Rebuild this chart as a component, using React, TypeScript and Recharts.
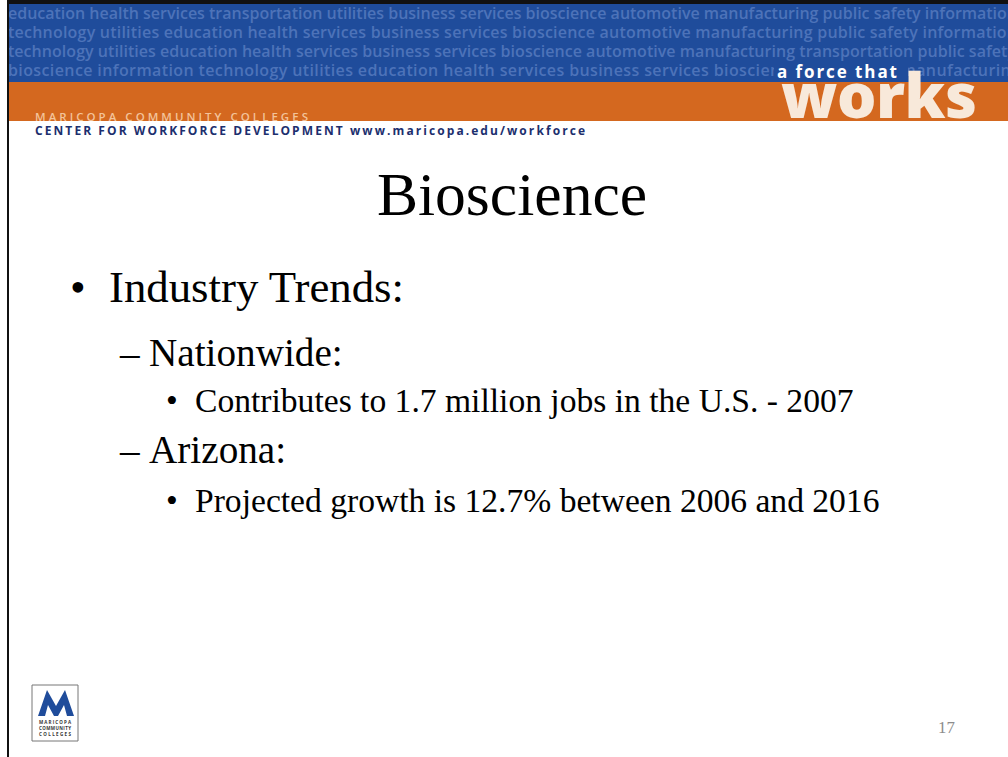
import { Surface, Layer, Rectangle, Polygon } from "recharts";

const W = 1008;
const H = 757;

// background words in the blue banner
const bannerLines = [
  "education health services transportation utilities business services bioscience automotive manufacturing public safety information",
  "technology utilities education health services business services bioscience automotive manufacturing public safety information",
  "technology utilities education health services business services bioscience automotive manufacturing transportation public safety",
  "bioscience information technology utilities education health services business services bioscience automotive manufacturing",
];
const bannerLengths = [1009, 1009, 1008, 1012];

const title = "Bioscience";

const outline = [
  { level: 1, text: "Industry Trends:" },
  { level: 2, text: "Nationwide:" },
  { level: 3, text: "Contributes to 1.7 million jobs in the U.S. - 2007" },
  { level: 2, text: "Arizona:" },
  { level: 3, text: "Projected growth is 12.7% between 2006 and 2016" },
];
const outlineBaselines = [302, 366, 412, 463, 512];

const pageNumber = "17";
const logoLines = ["MARICOPA", "COMMUNITY", "COLLEGES"];

const levelStyle: Record<number, { size: number; markX: number; textX: number; mark: string; markSize: number }> = {
  1: { size: 44.8, markX: 70, textX: 109, mark: "\u2022", markSize: 44.8 },
  2: { size: 39.2, markX: 120, textX: 149, mark: "\u2013", markSize: 39.2 },
  3: { size: 33.6, markX: 166, textX: 195, mark: "\u2022", markSize: 33.6 },
};

const SERIF = "'Liberation Serif', 'Times New Roman', serif";
const SANS = "'Open Sans', 'DejaVu Sans', sans-serif";

export default function App() {
  return (
    <div style={{ position: "absolute", left: 0, top: 0, width: W, height: H, background: "#fff" }}>
      <Surface width={W} height={H} viewBox={{ x: 0, y: 0, width: W, height: H }}>
        {/* banner */}
        <Layer>
          <Rectangle x={0} y={0} width={W} height={H} fill="#ffffff" />
          <Rectangle x={7} y={4} width={W - 7} height={78} fill="#1f4c9b" />
          <Rectangle x={7} y={82} width={W - 7} height={39} fill="#d4681f" />
          {bannerLines.map((line, i) => (
            <text
              key={i}
              x={8}
              y={19 + i * 19}
              fontFamily={SANS}
              fontWeight={600}
              fontSize={16}
              fill="#4d73b9"
              textLength={bannerLengths[i]}
              lengthAdjust="spacing"
            >
              {line}
            </text>
          ))}
          <Rectangle x={774} y={61} width={134} height={21} fill="#1f4c9b" />
          <text x={777} y={78} fontFamily={SANS} fontWeight={700} fontSize={17} fill="#ffffff" textLength={120} lengthAdjust="spacing">
            a force that
          </text>
          <text x={781} y={118} fontFamily={SANS} fontWeight={800} fontSize={62} fill="#f8e9da" textLength={196} lengthAdjust="spacing">
            works
          </text>
          <text x={35} y={121} fontFamily={SANS} fontWeight={600} fontSize={11.5} fill="#f3c39a" textLength={273} lengthAdjust="spacing">
            MARICOPA COMMUNITY COLLEGES
          </text>
          <text x={35} y={135} fontFamily={SANS} fontWeight={700} fontSize={12} fill="#1c2f6e" textLength={550} lengthAdjust="spacing">
            CENTER FOR WORKFORCE DEVELOPMENT www.maricopa.edu/workforce
          </text>
        </Layer>

        {/* frame */}
        <Rectangle x={7} y={0} width={W - 7} height={4} fill="#111" />
        <Rectangle x={7} y={0} width={2} height={H} fill="#111" />

        {/* title and outline */}
        <text x={512} y={215} textAnchor="middle" fontFamily={SERIF} fontSize={61.6} fill="#000">
          {title}
        </text>
        {outline.map((item, i) => {
          const s = levelStyle[item.level];
          const y = outlineBaselines[i];
          return (
            <Layer key={i}>
              <text x={s.markX} y={y} fontFamily={SERIF} fontSize={s.markSize} fill="#000">
                {s.mark}
              </text>
              <text x={s.textX} y={y} fontFamily={SERIF} fontSize={s.size} fill="#000">
                {item.text}
              </text>
            </Layer>
          );
        })}

        {/* logo */}
        <Layer>
          <Rectangle x={32} y={685} width={46} height={56} fill="#ffffff" stroke="#777" strokeWidth={1} />
          <Polygon
            points={[
              { x: 38, y: 716 },
              { x: 47, y: 690 },
              { x: 56, y: 706 },
              { x: 65, y: 690 },
              { x: 74, y: 716 },
              { x: 67, y: 716 },
              { x: 64, y: 705 },
              { x: 58, y: 716 },
              { x: 54, y: 716 },
              { x: 48, y: 705 },
              { x: 45, y: 716 },
            ]}
            fill="#1f4c9b"
          />
          {logoLines.map((t, i) => (
            <text
              key={t}
              x={55}
              y={724 + i * 6}
              textAnchor="middle"
              fontFamily={SANS}
              fontWeight={700}
              fontSize={4.5}
              fill="#333"
              textLength={32}
              lengthAdjust="spacing"
            >
              {t}
            </text>
          ))}
        </Layer>

        <text x={938} y={733} fontFamily={SERIF} fontSize={16.8} fill="#8c8c8c">
          {pageNumber}
        </text>
      </Surface>
    </div>
  );
}
